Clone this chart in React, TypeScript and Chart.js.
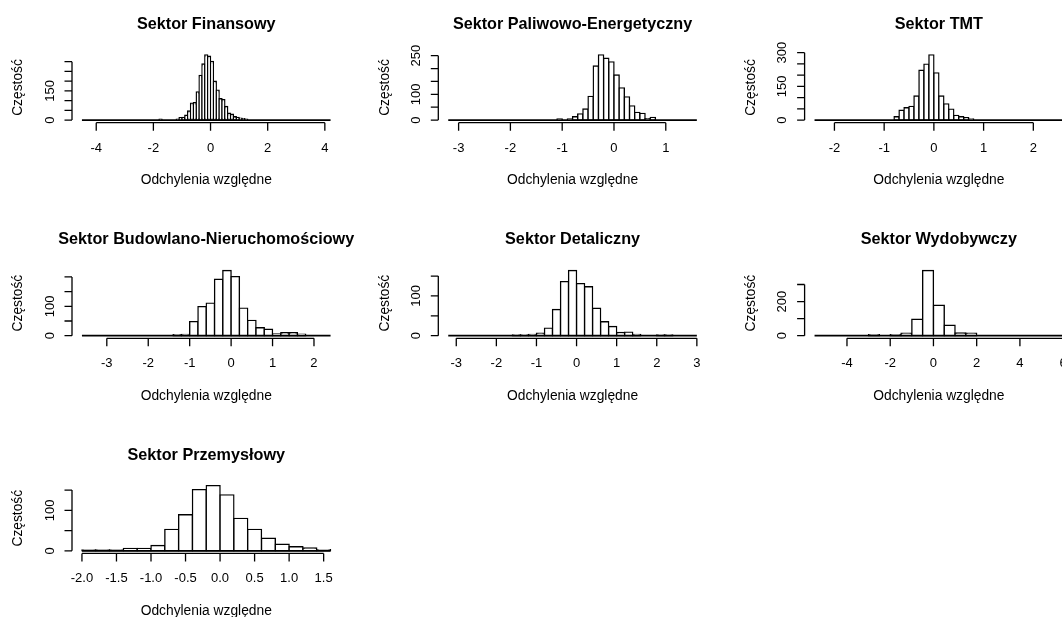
import React, { useEffect, useRef } from "react";
import { Chart, registerables } from "chart.js";

Chart.register(...registerables);

const FONT = '"Liberation Sans", Arial, Helvetica, sans-serif';
const X_TITLE = "Odchylenia względne";
const Y_TITLE = "Częstość";

// ---------------- DATA ----------------
// Sektor Finansowy
const finTitle = "Sektor Finansowy";
const finBreaks = [-4.5, 4.2];
const finBinWidth = 0.1;
const finFirstBin = -1.8;
const finCounts = [5, 0, 0, 0, 0, 0, 5, 12, 13, 25, 47, 87, 90, 145, 230, 288, 335, 328, 302, 200, 154, 110, 105, 70, 35, 30, 17, 14, 10, 7, 5];
const finXTicks = [-4, -2, 0, 2, 4];
const finXLabels = ["-4", "-2", "0", "2", "4"];
const finYTicks = [0, 50, 100, 150, 200, 250, 300];
const finYLabels = ["0", "", "", "150", "", "", ""];

// Sektor Paliwowo-Energetyczny
const palTitle = "Sektor Paliwowo-Energetyczny";
const palBreaks = [-3.2, 1.6];
const palBinWidth = 0.1;
const palFirstBin = -1.1;
const palCounts = [4, 0, 4, 13, 24, 43, 92, 210, 253, 240, 226, 175, 125, 90, 55, 30, 26, 5, 10];
const palXTicks = [-3, -2, -1, 0, 1];
const palXLabels = ["-3", "-2", "-1", "0", "1"];
const palYTicks = [0, 50, 100, 150, 200, 250];
const palYLabels = ["0", "", "100", "", "", "250"];

// Sektor TMT
const tmtTitle = "Sektor TMT";
const tmtBreaks = [-2.4, 2.6];
const tmtBinWidth = 0.1;
const tmtFirstBin = -0.8;
const tmtCounts = [15, 44, 55, 61, 107, 222, 249, 290, 210, 107, 72, 49, 21, 15, 11, 5];
const tmtXTicks = [-2, -1, 0, 1, 2];
const tmtXLabels = ["-2", "-1", "0", "1", "2"];
const tmtYTicks = [0, 50, 100, 150, 200, 250, 300];
const tmtYLabels = ["0", "", "", "150", "", "", "300"];

// Sektor Budowlano-Nieruchomościowy
const budTitle = "Sektor Budowlano-Nieruchomościowy";
const budBreaks = [-3.6, 2.4];
const budBinWidth = 0.2;
const budFirstBin = -1.4;
const budCounts = [3, 4, 48, 99, 111, 192, 222, 201, 94, 52, 27, 22, 6, 10, 10, 5];
const budXTicks = [-3, -2, -1, 0, 1, 2];
const budXLabels = ["-3", "-2", "-1", "0", "1", "2"];
const budYTicks = [0, 50, 100, 150, 200];
const budYLabels = ["0", "", "100", "", ""];

// Sektor Detaliczny
const detTitle = "Sektor Detaliczny";
const detBreaks = [-3.2, 3.0];
const detBinWidth = 0.2;
const detFirstBin = -1.6;
const detCounts = [2, 2, 3, 6, 19, 66, 136, 164, 131, 123, 69, 35, 23, 8, 9, 3, 0, 0, 2, 2];
const detXTicks = [-3, -2, -1, 0, 1, 2, 3];
const detXLabels = ["-3", "-2", "-1", "0", "1", "2", "3"];
const detYTicks = [0, 50, 100, 150];
const detYLabels = ["0", "", "100", ""];

// Sektor Wydobywczy
const wydTitle = "Sektor Wydobywczy";
const wydBreaks = [-5.5, 6.0];
const wydBinWidth = 0.5;
const wydFirstBin = -3.0;
const wydCounts = [6, 0, 6, 15, 96, 382, 178, 61, 16, 15];
const wydXTicks = [-4, -2, 0, 2, 4, 6];
const wydXLabels = ["-4", "-2", "0", "2", "4", "6"];
const wydYTicks = [0, 100, 200, 300];
const wydYLabels = ["0", "", "200", ""];

// Sektor Przemysłowy
const przTitle = "Sektor Przemysłowy";
const przBreaks = [-2.0, 1.6];
const przBinWidth = 0.2;
const przFirstBin = -2.0;
const przCounts = [2, 2, 2, 6, 6, 13, 53, 89, 151, 161, 138, 80, 53, 31, 16, 10, 7, 3];
const przXTicks = [-2, -1.5, -1, -0.5, 0, 0.5, 1, 1.5];
const przXLabels = ["-2.0", "-1.5", "-1.0", "-0.5", "0.0", "0.5", "1.0", "1.5"];
const przYTicks = [0, 50, 100, 150];
const przYLabels = ["0", "", "100", ""];

// ---------------- LAYOUT ----------------
const COL_LEFT = [72, 438.3, 804.6];
const PLOT_W = 268.5;
const ROW_BOTTOM = [122.7, 338.3, 553.4];
const PLOT_H = 70.4;
const CANVAS_W = 1090;
const CANVAS_H = 617;

const panels = [
  { title: finTitle, breaks: finBreaks, bw: finBinWidth, first: finFirstBin, counts: finCounts, xTicks: finXTicks, xLabels: finXLabels, yTicks: finYTicks, yLabels: finYLabels, col: 0, row: 0 },
  { title: palTitle, breaks: palBreaks, bw: palBinWidth, first: palFirstBin, counts: palCounts, xTicks: palXTicks, xLabels: palXLabels, yTicks: palYTicks, yLabels: palYLabels, col: 1, row: 0 },
  { title: tmtTitle, breaks: tmtBreaks, bw: tmtBinWidth, first: tmtFirstBin, counts: tmtCounts, xTicks: tmtXTicks, xLabels: tmtXLabels, yTicks: tmtYTicks, yLabels: tmtYLabels, col: 2, row: 0 },
  { title: budTitle, breaks: budBreaks, bw: budBinWidth, first: budFirstBin, counts: budCounts, xTicks: budXTicks, xLabels: budXLabels, yTicks: budYTicks, yLabels: budYLabels, col: 0, row: 1 },
  { title: detTitle, breaks: detBreaks, bw: detBinWidth, first: detFirstBin, counts: detCounts, xTicks: detXTicks, xLabels: detXLabels, yTicks: detYTicks, yLabels: detYLabels, col: 1, row: 1 },
  { title: wydTitle, breaks: wydBreaks, bw: wydBinWidth, first: wydFirstBin, counts: wydCounts, xTicks: wydXTicks, xLabels: wydXLabels, yTicks: wydYTicks, yLabels: wydYLabels, col: 2, row: 1 },
  { title: przTitle, breaks: przBreaks, bw: przBinWidth, first: przFirstBin, counts: przCounts, xTicks: przXTicks, xLabels: przXLabels, yTicks: przYTicks, yLabels: przYLabels, col: 0, row: 2 },
];

// R-style axes, titles and labels drawn from the chart's own scales
const rAxesPlugin = {
  id: "rAxes",
  afterDraw(chart: any, _args: any, o: any) {
    const { ctx, chartArea, scales } = chart;
    const { left, right, top, bottom } = chartArea;
    const x = scales.x;
    const y = scales.y;
    ctx.save();
    ctx.strokeStyle = "#000";
    ctx.fillStyle = "#000";
    ctx.lineWidth = 1.3;

    const xVals: number[] = x.ticks.map((t: any) => t.value);
    const yVals: number[] = y.ticks.map((t: any) => t.value);
    const xs = xVals.map((v) => x.getPixelForValue(v));
    const ys = yVals.map((v) => y.getPixelForValue(v));

    ctx.beginPath();
    ctx.moveTo(xs[0], bottom);
    ctx.lineTo(xs[xs.length - 1], bottom);
    for (const px of xs) {
      ctx.moveTo(px, bottom);
      ctx.lineTo(px, bottom + 8);
    }
    ctx.moveTo(left, ys[0]);
    ctx.lineTo(left, ys[ys.length - 1]);
    for (const py of ys) {
      ctx.moveTo(left, py);
      ctx.lineTo(left - 7.5, py);
    }
    ctx.stroke();

    // x tick labels
    ctx.font = `13px ${FONT}`;
    ctx.textAlign = "center";
    ctx.textBaseline = "alphabetic";
    xVals.forEach((v, i) => {
      const k = o.xTicks.indexOf(v);
      const s = k >= 0 ? o.xLabels[k] : "";
      if (s) ctx.fillText(s, xs[i], bottom + 29);
    });

    // y tick labels (rotated)
    yVals.forEach((v, i) => {
      const k = o.yTicks.indexOf(v);
      const s = k >= 0 ? o.yLabels[k] : "";
      if (!s) return;
      ctx.save();
      ctx.translate(left - 22, ys[i]);
      ctx.rotate(-Math.PI / 2);
      ctx.textAlign = "center";
      ctx.textBaseline = "middle";
      ctx.fillText(s, 0, 0);
      ctx.restore();
    });

    const cx = (left + right) / 2;
    // main title
    ctx.font = `bold 16.2px ${FONT}`;
    ctx.textAlign = "center";
    ctx.textBaseline = "alphabetic";
    ctx.fillText(o.title, cx, top - 23.5);

    // x axis title
    ctx.font = `13.8px ${FONT}`;
    ctx.fillText(X_TITLE, cx, bottom + 61.5);

    // y axis title
    ctx.save();
    ctx.translate(left - 53.5, (top + bottom) / 2);
    ctx.rotate(-Math.PI / 2);
    ctx.textAlign = "center";
    ctx.textBaseline = "middle";
    ctx.fillText(Y_TITLE, 0, 0);
    ctx.restore();

    ctx.restore();
  },
};

function Panel({ p }: { p: any }) {
  const ref = useRef<HTMLCanvasElement | null>(null);
  useEffect(() => {
    const canvas = ref.current;
    if (!canvas) return;
    const left = COL_LEFT[p.col];
    const right = left + PLOT_W;
    const bottom = ROW_BOTTOM[p.row];
    const top = bottom - PLOT_H;
    const [lo, hi] = p.breaks;
    const ext = 0.04 * (hi - lo);
    const M = Math.max(...p.counts);
    const bars = p.counts.map((c: number, i: number) => ({ x: p.first + (i + 0.5) * p.bw, y: c }));

    const chart = new Chart(canvas, {
      type: "bar",
      data: {
        datasets: [
          {
            type: "line",
            data: [
              { x: lo, y: 0 },
              { x: hi, y: 0 },
            ],
            borderColor: "#000",
            borderWidth: 1.8,
            pointRadius: 0,
            fill: false,
            order: 0,
          } as any,
          {
            type: "bar",
            data: bars,
            backgroundColor: "#fff",
            borderColor: "#000",
            borderWidth: 1.4,
            borderSkipped: false,
            inflateAmount: 0.7,
            barPercentage: 1,
            categoryPercentage: 1,
            order: 1,
          } as any,
        ],
      },
      options: {
        responsive: false,
        animation: false,
        devicePixelRatio: 1,
        events: [],
        layout: {
          autoPadding: false,
          padding: { left, top, right: CANVAS_W - right, bottom: CANVAS_H - bottom },
        },
        plugins: {
          legend: { display: false },
          tooltip: { enabled: false },
          title: { display: false },
          rAxes: { title: p.title, xTicks: p.xTicks, xLabels: p.xLabels, yTicks: p.yTicks, yLabels: p.yLabels },
        } as any,
        scales: {
          x: {
            type: "linear",
            min: lo - ext,
            max: hi + ext,
            display: false,
            offset: false,
            ticks: { autoSkip: false },
            afterBuildTicks: (s: any) => {
              s.ticks = p.xTicks.map((v: number) => ({ value: v }));
            },
          },
          y: {
            type: "linear",
            min: -0.04 * M,
            max: 1.04 * M,
            display: false,
            ticks: { autoSkip: false },
            afterBuildTicks: (s: any) => {
              s.ticks = p.yTicks.map((v: number) => ({ value: v }));
            },
          },
        },
      } as any,
      plugins: [rAxesPlugin as any],
    });
    return () => chart.destroy();
  }, [p]);
  return (
    <canvas
      ref={ref}
      width={CANVAS_W}
      height={CANVAS_H}
      style={{ position: "absolute", left: 0, top: 0, width: CANVAS_W, height: CANVAS_H }}
    />
  );
}

export default function App() {
  return (
    <div
      style={{
        position: "fixed",
        left: 0,
        top: 0,
        width: 1062,
        height: 617,
        overflow: "hidden",
        background: "#fff",
      }}
    >
      {panels.map((p, i) => (
        <Panel key={i} p={p} />
      ))}
    </div>
  );
}
